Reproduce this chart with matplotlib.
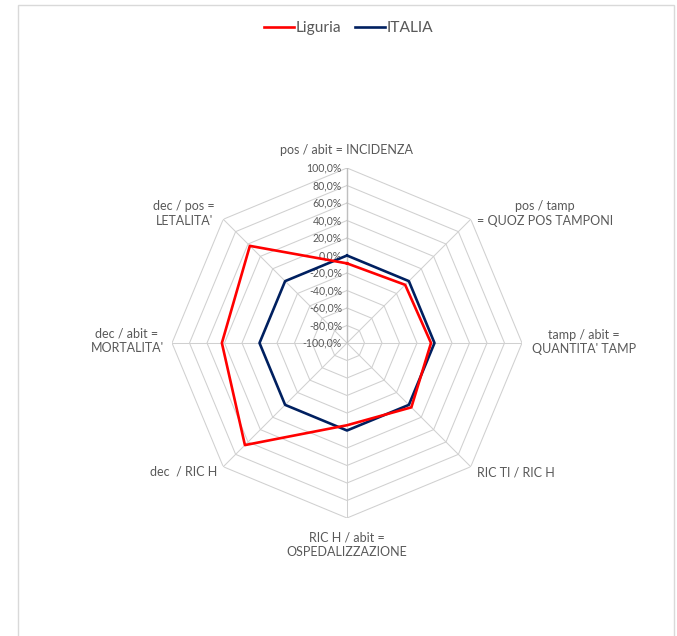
import numpy as np
import matplotlib
matplotlib.use("Agg")
import matplotlib.pyplot as plt
from matplotlib.patches import Rectangle

plt.rcParams['font.family'] = ['Lato', 'DejaVu Sans']

# assi (in senso orario partendo dall'alto)
categorie = ["pos / abit = INCIDENZA",
             "pos / tamp\n= QUOZ POS TAMPONI",
             "tamp / abit =\nQUANTITA' TAMP",
             "RIC TI / RIC H",
             "RIC H / abit =\nOSPEDALIZZAZIONE",
             "dec  / RIC H",
             "dec / abit =\nMORTALITA'",
             "dec / pos =\nLETALITA'"]
liguria = [-9, -6, -4, 4, -6, 65, 43, 57]
italia = [0, 0, 0, 0, 0, 0, 0, 0]
livelli = [-80, -60, -40, -20, 0, 20, 40, 60, 80, 100]
tick_labels = ["-100,0%", "-80,0%", "-60,0%", "-40,0%", "-20,0%", "0,0%",
               "20,0%", "40,0%", "60,0%", "80,0%", "100,0%"]

grigio = '#d0d0d0'
testo = '#595959'

n = len(categorie)
ang = np.arange(n) * 2 * np.pi / n
ang_c = np.append(ang, ang[0])

fig = plt.figure(figsize=(6.77, 6.36), dpi=100)
cx, cy, R = 347 / 677, 1 - 343 / 636, 175
ax = fig.add_axes([cx - R / 677, cy - R / 636, 2 * R / 677, 2 * R / 636], projection='polar')
ax.set_theta_offset(np.pi / 2)
ax.set_theta_direction(-1)
ax.set_ylim(-100, 100)
ax.grid(False)
ax.spines['polar'].set_visible(False)
ax.set_xticks([])
ax.set_yticks([])
ax.patch.set_alpha(0)

# griglia poligonale
for lv in livelli:
    ax.plot(ang_c, [lv] * (n + 1), color=grigio, lw=0.75, zorder=1)
for a in ang:
    ax.plot([a, a], [-100, 100], color=grigio, lw=0.75, zorder=1)
ax.plot([0, 0], [-100, 100], color='#bfbfbf', lw=1.0, zorder=1)

# etichette asse radiale
for i, lab in enumerate(tick_labels):
    ax.annotate(lab, xy=(0, -100 + 20 * i), xytext=(-5, 0), textcoords='offset pixels',
                ha='right', va='center', fontsize=7.6, color=testo, zorder=2)

# serie
ax.plot(ang_c, liguria + liguria[:1], color='#ff0000', lw=1.9, label='Liguria', zorder=4)
ax.plot(ang_c, italia + italia[:1], color='#002060', lw=1.9, label='ITALIA', zorder=3)

# etichette categorie
offs = [(0, 18, 'center'), (74, 6, 'center'), (62, 1, 'center'), (6, -6, 'left'),
        (0, -27, 'center'), (-6, -5, 'right'), (-45, 2, 'center'), (-39, 6, 'center')]
for a, lab, (dx, dy, ha) in zip(ang, categorie, offs):
    ax.annotate(lab, xy=(a, 100), xytext=(dx, dy), textcoords='offset pixels',
                ha=ha, va='center', ma='center', fontsize=9, color=testo, linespacing=1.25)

fig.legend(loc='center', bbox_to_anchor=(0.515, 1 - 28 / 636), ncol=2, frameon=False,
           fontsize=11.2, handlelength=1.9, handletextpad=0.1, columnspacing=0.9,
           labelcolor=testo)

fig.patches.append(Rectangle((18 / 677, -0.01), 656 / 677, 1.01 - 5 / 636,
                             transform=fig.transFigure, fill=False, edgecolor='#d9d9d9', lw=1))

fig.savefig('out.png', dpi=100)
